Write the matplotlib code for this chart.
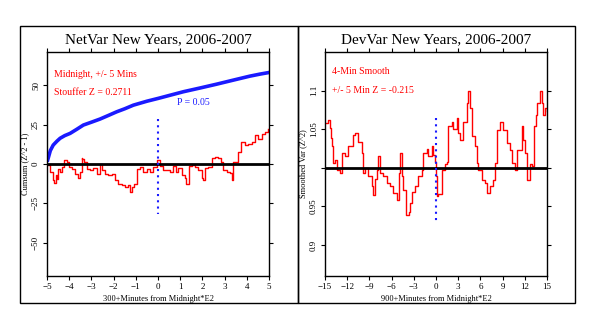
import numpy as np
import matplotlib.pyplot as plt
from matplotlib.patches import Rectangle

plt.rcParams['font.family'] = ['Liberation Serif', 'DejaVu Serif']

# NetVar panel: cumulative deviation (red) and P=0.05 envelope (blue)
net_x = [-4.97, -4.86, -4.72, -4.67, -4.61, -4.56, -4.49, -4.41, -4.34, -4.22,
         -4.12, -4.01, -3.89, -3.74, -3.62, -3.53, -3.44, -3.41, -3.32, -3.21,
         -3.06, -2.91, -2.76, -2.61, -2.53, -2.38, -2.24, -2.09, -1.94, -1.79,
         -1.64, -1.49, -1.37, -1.26, -1.16, -1.07, -0.96, -0.81, -0.66, -0.51,
         -0.36, -0.21, -0.06, 0.09, 0.24, 0.39, 0.54, 0.69, 0.80, 0.91,
         1.06, 1.21, 1.28, 1.36, 1.40, 1.51, 1.66, 1.81, 1.96, 2.04,
         2.11, 2.26, 2.41, 2.56, 2.71, 2.86, 2.94, 3.09, 3.24, 3.35,
         3.40, 3.54, 3.62, 3.74, 3.84, 3.92, 4.07, 4.22, 4.37, 4.52,
         4.67, 4.82, 4.97]
net_y = [-0.4, -5.0, -10.3, -11.8, -7.0, -9.3, -2.9, -5.0, -1.9, 2.8,
         1.3, -1.9, -2.9, -6.1, -8.9, -5.0, 4.0, 3.0, 1.3, -2.9,
         -4.0, -2.3, -6.5, 0.3, -4.0, -6.1, -7.2, -6.1, -10.3, -12.4,
         -13.5, -14.5, -13.5, -17.7, -14.5, -12.4, -2.9, -1.9, -5.0, -2.9,
         -5.0, -1.9, 2.3, -1.3, -4.0, -4.0, -4.9, -1.3, -4.9, -2.7,
         -7.0, -9.1, -12.9, -12.9, -1.0, -0.6, -1.7, -3.8, -9.1, -10.1,
         -2.7, -1.7, 3.6, 4.6, 3.6, 1.5, -3.8, -4.9, -5.9, -10.1,
         1.5, 1.5, 7.8, 13.9, 13.9, 11.8, 12.9, 13.9, 18.2, 16.1,
         19.2, 20.3, 22.4]
env_x = [-4.97, -4.85, -4.72, -4.55, -4.41, -4.2, -3.96, -3.66, -3.36, -3.0,
         -2.61, -2.2, -1.86, -1.5, -1.11, -0.5, 0.01, 0.6, 1.14, 1.9,
         2.64, 3.4, 4.14, 4.6, 5.0]
env_y = [2.5, 8.5, 12.0, 14.5, 16.3, 18.0, 19.4, 22.0, 24.7, 26.5,
         28.5, 31.0, 33.1, 35.0, 37.3, 39.8, 41.6, 43.8, 45.8, 48.2,
         50.6, 53.2, 55.7, 57.0, 58.0]
net_marker = [28.5, -32.0]

# DevVar panel: 4-min smoothed variance
dev_x = [-14.86, -14.55, -14.3, -14.2, -14.0, -13.87, -13.7, -13.4, -12.97, -12.75,
         -12.3, -11.85, -11.17, -10.9, -10.5, -10.05, -9.82, -9.6, -9.2, -8.7,
         -8.47, -8.25, -8.0, -7.8, -7.57, -7.12, -6.67, -6.22, -5.77, -5.32,
         -5.0, -4.86, -4.6, -4.41, -4.1, -3.7, -3.51, -3.3, -2.84, -2.39,
         -1.94, -1.71, -1.49, -1.26, -1.04, -0.59, -0.36, -0.14, 0.0, 0.09,
         0.32, 0.77, 1.2, 1.44, 1.67, 2.12, 2.35, 2.8, 3.0, 3.24,
         3.7, 4.14, 4.37, 4.6, 4.82, 5.27, 5.5, 5.72, 6.17, 6.6,
         6.95, 7.3, 7.7, 7.97, 8.2, 8.65, 9.1, 9.55, 10.0, 10.23,
         10.7, 10.9, 11.57, 11.8, 12.0, 12.3, 12.7, 13.0, 13.26, 13.5,
         13.7, 14.05, 14.3, 14.5, 14.73, 14.95]
dev_y = [1.058, 1.062, 1.052, 1.039, 1.028, 1.006, 1.010, 0.997, 0.993, 1.019,
         1.015, 1.028, 1.043, 1.045, 1.034, 1.019, 0.993, 1.000, 0.990, 0.976,
         0.965, 0.985, 0.997, 1.015, 0.993, 0.990, 0.980, 0.976, 0.967, 0.958,
         0.993, 1.019, 0.990, 0.971, 0.939, 0.943, 0.954, 0.969, 0.976, 0.989,
         0.997, 1.019, 1.019, 1.025, 1.015, 1.028, 1.017, 1.008, 0.989, 0.963,
         0.966, 0.997, 1.005, 1.008, 1.054, 1.060, 1.050, 1.065, 1.045, 1.036,
         1.060, 1.084, 1.099, 1.077, 1.041, 1.028, 1.006, 0.997, 0.984, 0.980,
         0.967, 0.976, 0.984, 1.006, 1.049, 1.060, 1.049, 1.032, 1.023, 1.006,
         0.997, 1.023, 1.054, 1.036, 1.019, 0.984, 1.005, 1.002, 1.054, 1.069,
         1.084, 1.099, 1.084, 1.069, 1.077, 1.074]
dev_marker = [1.064, 0.9295]

fig = plt.figure(figsize=(5.96, 3.23), dpi=100)
W, H = 596, 323

# panel frames
for x0, x1 in [(20, 298), (298, 575)]:
    fig.patches.append(Rectangle((x0 / W, 1 - 303 / H), (x1 - x0) / W, 277 / H,
                                 transform=fig.transFigure, fill=False,
                                 edgecolor="black", linewidth=1.0))

ax1 = fig.add_axes([47 / W, 1 - 276 / H, 222 / W, 224 / H])
ax2 = fig.add_axes([325 / W, 1 - 276 / H, 222 / W, 224 / H])

# left panel
ax1.plot(env_x, env_y, color="#1a1aff", linewidth=2.6)
ax1.plot(net_x, net_y, color="red", linewidth=1.0, drawstyle="steps-post")
ax1.axhline(0, color="black", linewidth=2.0)
ax1.plot([0, 0], net_marker, color="#1a1aff", linestyle=(0, (1, 2)), linewidth=1.5)
ax1.set_xlim(-5, 5)
ax1.set_ylim(-71, 71)
ax1.set_xticks(range(-5, 6))
ax1.set_yticks([-50, -25, 0, 25, 50])
ax1.set_title("NetVar New Years, 2006-2007", fontsize=11, pad=6)
ax1.set_xlabel("300+Minutes from Midnight*E2", fontsize=6, labelpad=3)
ax1.set_ylabel("Cumsum (Z^2 - 1)", fontsize=6, labelpad=2)
ax1.text(-4.7, 57, "Midnight, +/- 5 Mins", color="red", fontsize=7, va="center")
ax1.text(-4.7, 45.5, "Stouffer Z = 0.2711", color="red", fontsize=7, va="center")
ax1.text(1.6, 39, "P = 0.05", color="#1a1aff", fontsize=7, ha="center", va="center")

# right panel
ax2.plot(dev_x, dev_y, color="red", linewidth=1.0, drawstyle="steps-post")
ax2.axhline(1.0, color="black", linewidth=2.0)
ax2.plot([0, 0], dev_marker, color="#1a1aff", linestyle=(0, (1, 2)), linewidth=1.5)
ax2.set_xlim(-15, 15)
ax2.set_ylim(0.86, 1.15)
ax2.set_xticks(range(-15, 16, 3))
ax2.set_yticks([0.9, 0.95, 1.0, 1.05, 1.1])
ax2.set_yticklabels(["0.9", "0.95", "", "1.05", "1.1"])
ax2.set_title("DevVar New Years, 2006-2007", fontsize=11, pad=6)
ax2.set_xlabel("900+Minutes from Midnight*E2", fontsize=6, labelpad=3)
ax2.set_ylabel("Smoothed Var (Z^2)", fontsize=6, labelpad=2)
ax2.text(-14.1, 1.125, "4-Min Smooth", color="red", fontsize=7, va="center")
ax2.text(-14.1, 1.1, "+/- 5 Min Z = -0.215", color="red", fontsize=7, va="center")

for ax in (ax1, ax2):
    ax.tick_params(direction="out", length=3, width=0.8, labelsize=6.5, pad=2,
                   top=True, right=True)
    for lab in ax.get_yticklabels():
        lab.set_rotation(90)
        lab.set_va("center")
    for s in ax.spines.values():
        s.set_linewidth(1.0)

fig.savefig("out.png", dpi=100)
